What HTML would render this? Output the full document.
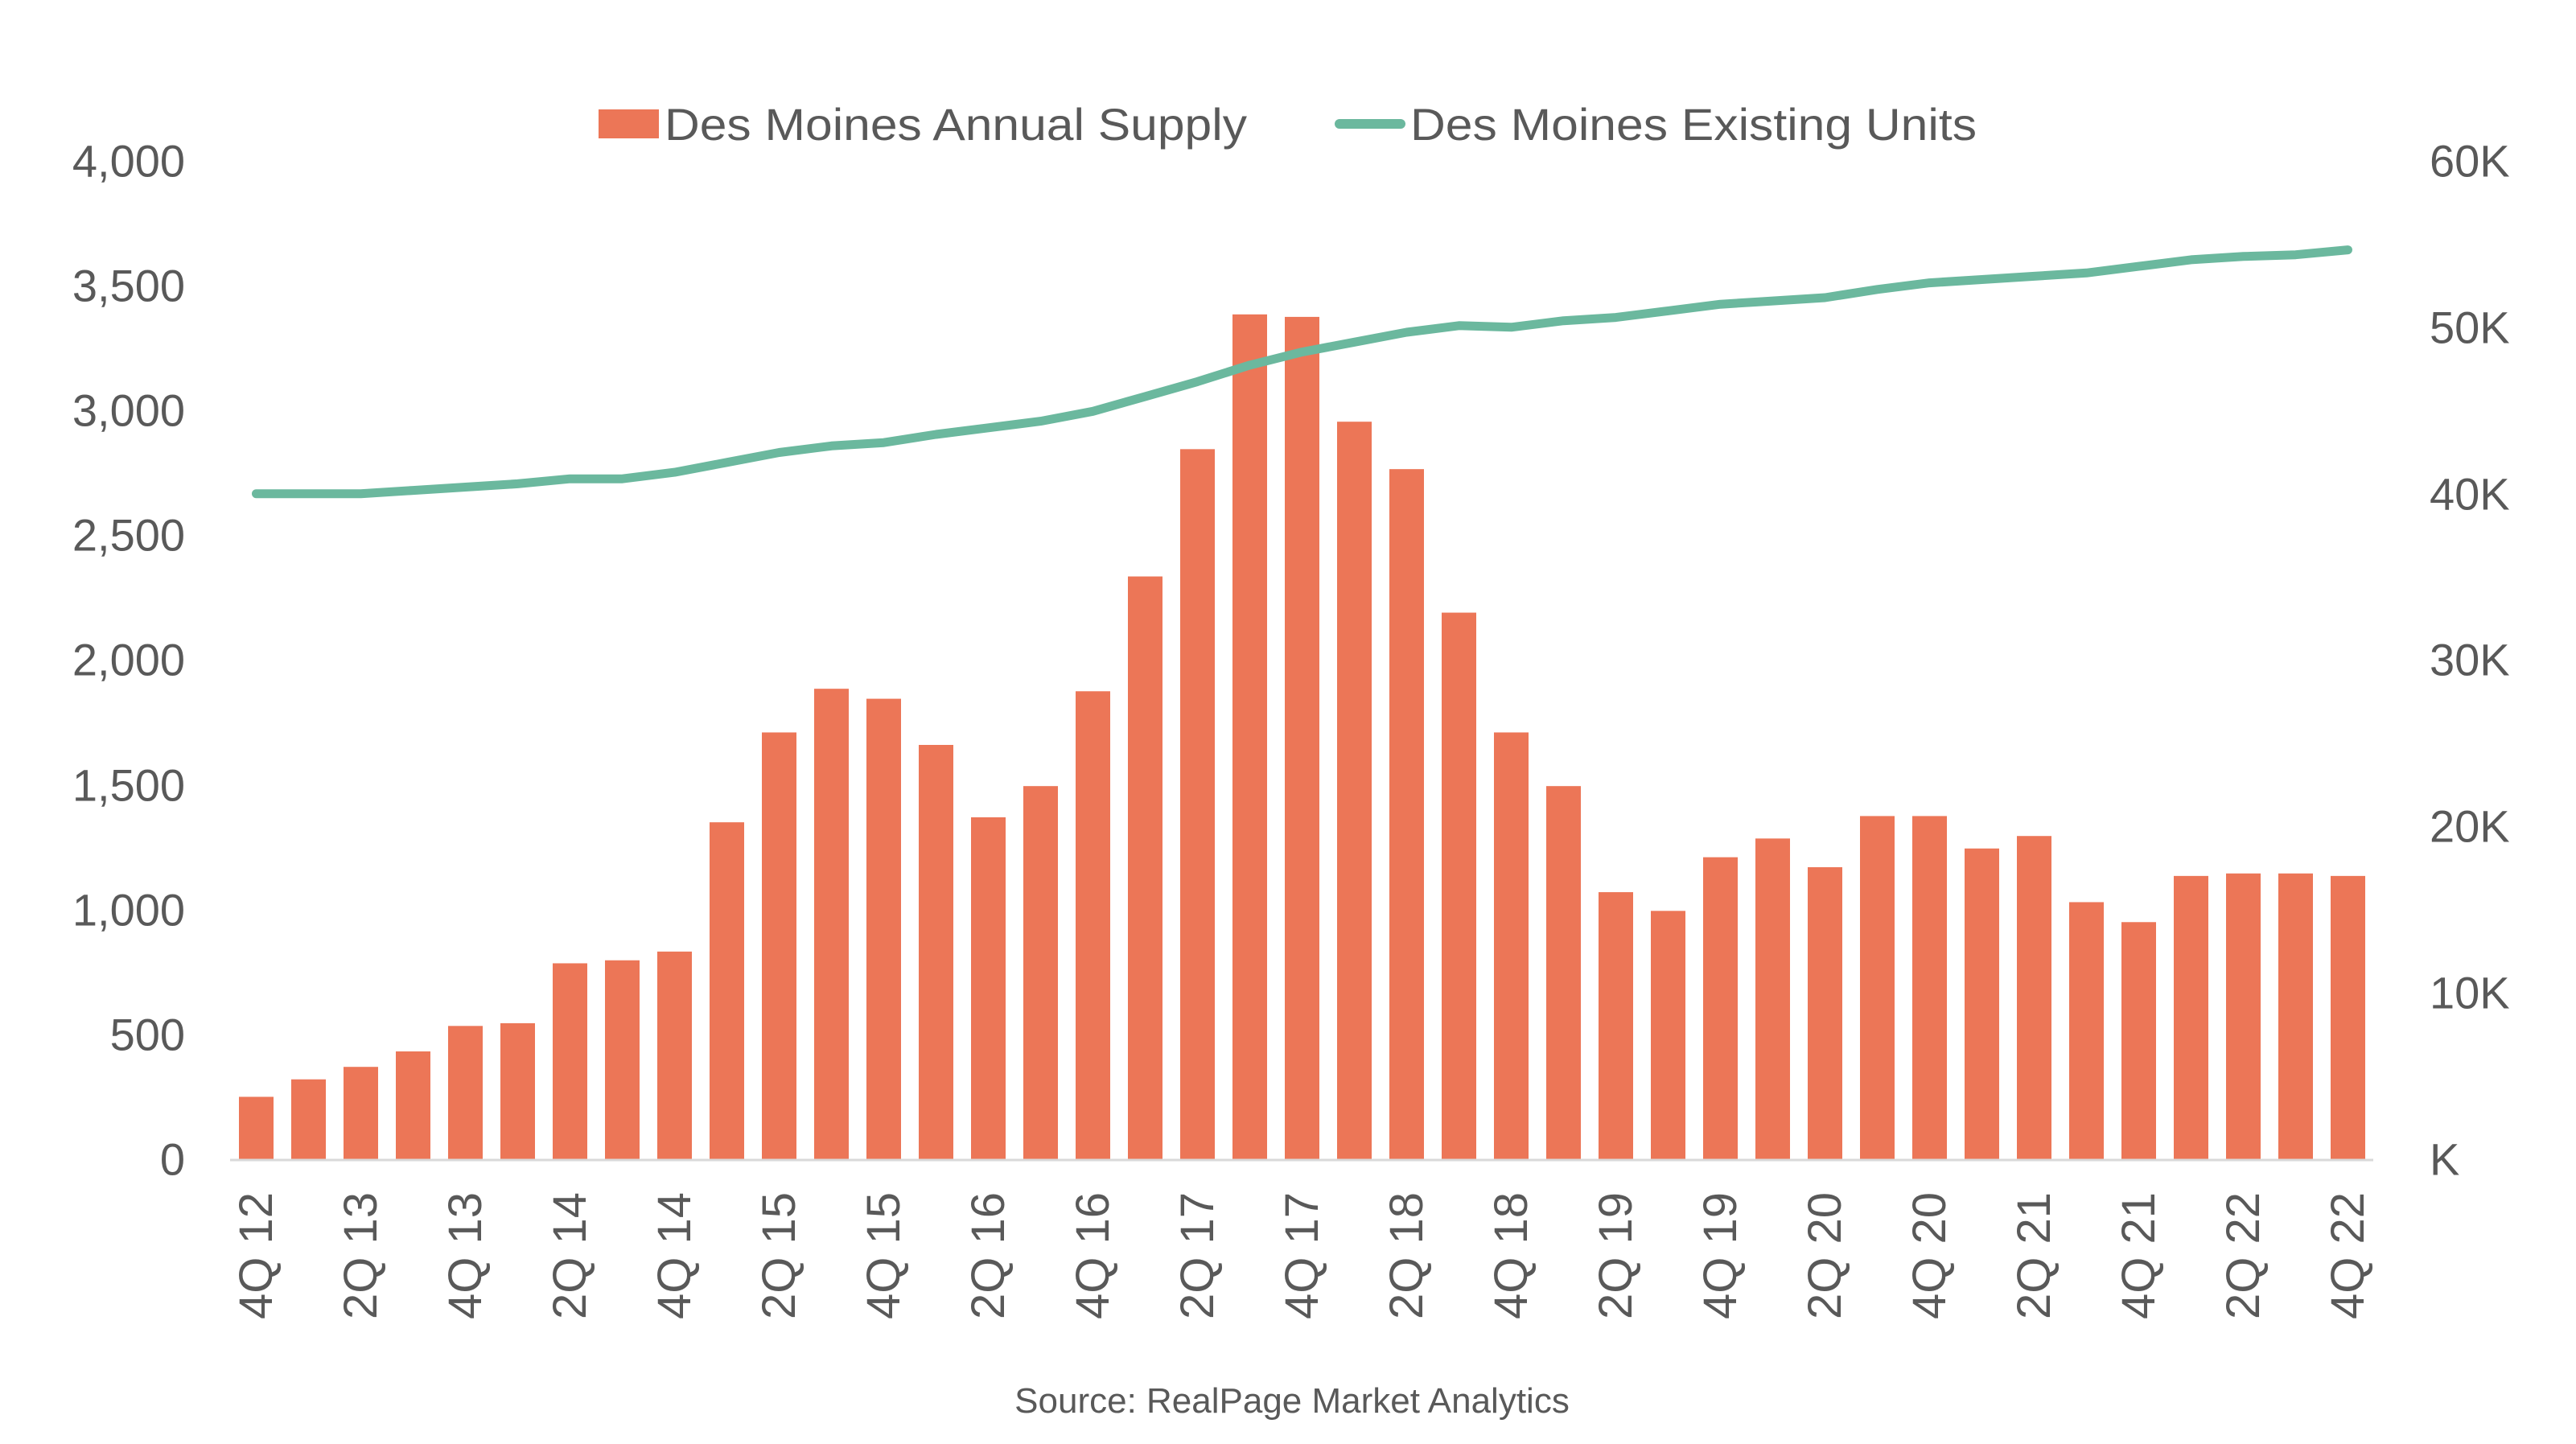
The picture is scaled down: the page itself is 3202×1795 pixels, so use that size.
<!DOCTYPE html>
<html><head><meta charset="utf-8"><style>
html,body{margin:0;padding:0;background:#fff;}
svg{display:block;}
text{font-family:"Liberation Sans",sans-serif;fill:#595959;}
</style></head><body>
<svg id="c" width="3202" height="1795" viewBox="0 0 3202 1795" xmlns="http://www.w3.org/2000/svg">
<rect width="3202" height="1795" fill="#fff"/>
<g id="bars"></g>
<line x1="286" y1="1442" x2="2950" y2="1442" stroke="#d9d9d9" stroke-width="3"/>
<polyline id="ln" fill="none" stroke="#6bb89e" stroke-width="11" stroke-linejoin="round" stroke-linecap="round"/>
<g font-size="56" text-anchor="end" dominant-baseline="central">
<text x="230" y="1441">0</text>
<text x="230" y="1286">500</text>
<text x="230" y="1131">1,000</text>
<text x="230" y="976">1,500</text>
<text x="230" y="820">2,000</text>
<text x="230" y="665">2,500</text>
<text x="230" y="510">3,000</text>
<text x="230" y="355">3,500</text>
<text x="230" y="200">4,000</text>
</g>
<g font-size="56" text-anchor="start" dominant-baseline="central">
<text x="3020" y="1441">K</text>
<text x="3020" y="1234">10K</text>
<text x="3020" y="1027">20K</text>
<text x="3020" y="820">30K</text>
<text x="3020" y="614">40K</text>
<text x="3020" y="407">50K</text>
<text x="3020" y="200">60K</text>
</g>
<g font-size="58" text-anchor="end" dominant-baseline="central">
<text transform="translate(318.5,1482) rotate(-90)">4Q 12</text>
<text transform="translate(448.5,1482) rotate(-90)">2Q 13</text>
<text transform="translate(578.5,1482) rotate(-90)">4Q 13</text>
<text transform="translate(708.5,1482) rotate(-90)">2Q 14</text>
<text transform="translate(838.5,1482) rotate(-90)">4Q 14</text>
<text transform="translate(968.5,1482) rotate(-90)">2Q 15</text>
<text transform="translate(1098.5,1482) rotate(-90)">4Q 15</text>
<text transform="translate(1228.5,1482) rotate(-90)">2Q 16</text>
<text transform="translate(1358.5,1482) rotate(-90)">4Q 16</text>
<text transform="translate(1488.5,1482) rotate(-90)">2Q 17</text>
<text transform="translate(1618.5,1482) rotate(-90)">4Q 17</text>
<text transform="translate(1748.5,1482) rotate(-90)">2Q 18</text>
<text transform="translate(1878.5,1482) rotate(-90)">4Q 18</text>
<text transform="translate(2008.5,1482) rotate(-90)">2Q 19</text>
<text transform="translate(2138.5,1482) rotate(-90)">4Q 19</text>
<text transform="translate(2268.5,1482) rotate(-90)">2Q 20</text>
<text transform="translate(2398.5,1482) rotate(-90)">4Q 20</text>
<text transform="translate(2528.5,1482) rotate(-90)">2Q 21</text>
<text transform="translate(2658.5,1482) rotate(-90)">4Q 21</text>
<text transform="translate(2788.5,1482) rotate(-90)">2Q 22</text>
<text transform="translate(2918.5,1482) rotate(-90)">4Q 22</text>
</g>
<rect x="744" y="136" width="75" height="36" fill="#ec7657"/>
<text x="826" y="174" font-size="56" textLength="724" lengthAdjust="spacingAndGlyphs">Des Moines Annual Supply</text>
<line x1="1665" y1="154" x2="1741" y2="154" stroke="#6bb89e" stroke-width="12" stroke-linecap="round"/>
<text x="1753" y="174" font-size="56" textLength="704" lengthAdjust="spacingAndGlyphs">Des Moines Existing Units</text>
<text x="1606" y="1756" font-size="44" text-anchor="middle">Source: RealPage Market Analytics</text>
</svg>
<script>
var b=[250,320,370,432,534,545,785,797,832,1350,1710,1885,1845,1660,1370,1495,1875,2335,2845,3385,3375,2955,2765,2190,1710,1495,1070,995,1210,1285,1170,1375,1375,1245,1295,1030,950,1135,1145,1145,1135];
var ly=[299,299,299,297,295,293,290,290,286,280,274,270,268,263,259,255,249,240,231,221,213,207,201,197,198,194,192,188,184,182,180,175,171,169,167,165,161,157,155,154,151];
var ns="http://www.w3.org/2000/svg",g=document.getElementById("bars"),pts=[];
for(var i=0;i<41;i++){
 var cx=318.5+65*i,h=b[i]*0.31025;
 var r=document.createElementNS(ns,"rect");
 r.setAttribute("x",cx-21.5);r.setAttribute("y",1441-h);r.setAttribute("width",43);r.setAttribute("height",h);r.setAttribute("fill","#ec7657");
 g.appendChild(r);
 var v=60-(ly[i]-97)/10.1;
 pts.push(cx+","+(1441-v*20.683).toFixed(1));
}
document.getElementById("ln").setAttribute("points",pts.join(" "));
</script>
</body></html>
